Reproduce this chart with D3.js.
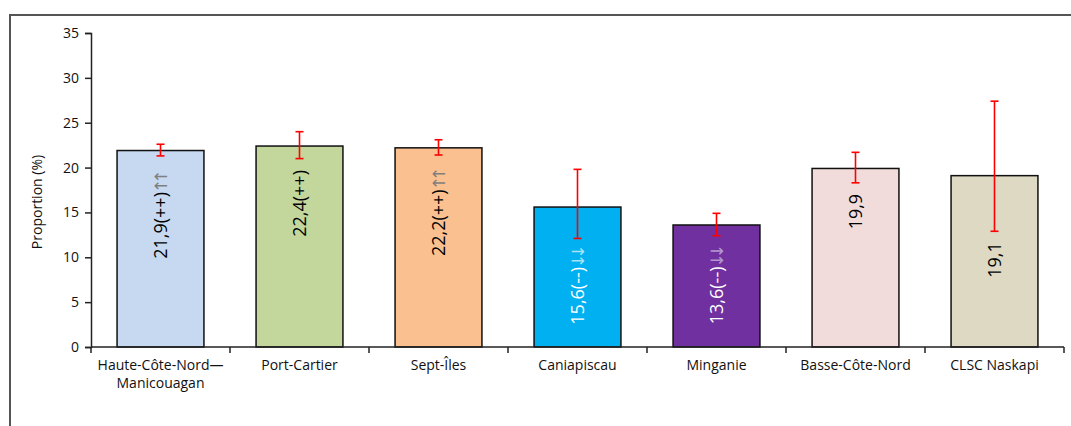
<!DOCTYPE html>
<html>
<head>
<meta charset="utf-8">
<script src="https://cdn.jsdelivr.net/npm/d3@7"></script>
<style>
  body { margin: 0; background: #fff; }
  text { font-family: "Open Sans", Lato, sans-serif; }
</style>
</head>
<body>
<div id="main"></div>
<script>
// données
const categories = ["Haute-Côte-Nord—Manicouagan", "Port-Cartier", "Sept-Îles", "Caniapiscau", "Minganie", "Basse-Côte-Nord", "CLSC Naskapi"];
const values = [21.9, 22.4, 22.2, 15.6, 13.6, 19.9, 19.1];
const errLow = [21.3, 21.0, 21.4, 12.1, 12.4, 18.3, 12.9];
const errHigh = [22.6, 24.0, 23.1, 19.8, 14.9, 21.7, 27.4];
const signs = ["(++)", "(++)", "(++)", "(--)", "(--)", "", ""];
const arrows = ["↑↑", "", "↑↑", "↓↓", "↓↓", "", ""];
const yTicks = [0, 5, 10, 15, 20, 25, 30, 35];

const colors = ["#c6d9f1", "#c3d69b", "#fac090", "#00b0f0", "#7030a0", "#f2dcdb", "#ddd9c3"];
const textColors = ["#000", "#000", "#000", "#fff", "#fff", "#000", "#000"];
const arrowColors = ["#7f7f7f", "#7f7f7f", "#7f7f7f", "#a6e3fa", "#b597cf", "#7f7f7f", "#7f7f7f"];

const ctx = {
    w: 1071,
    h: 426,
    left: 91,
    right: 1064,
    top: 33,
    bottom: 347,
};

function createViz(){
    let svg = d3.select("#main").append("svg")
        .attr("width", ctx.w)
        .attr("height", ctx.h);

    // cadre (seulement haut et gauche visibles)
    svg.append("path")
        .attr("d", `M10,${ctx.h} L10,15 L${ctx.w},15`)
        .attr("fill", "none")
        .attr("stroke", "#555")
        .attr("stroke-width", 2);

    const x = d3.scaleBand().domain(categories)
        .range([ctx.left, ctx.right])
        .paddingInner(0.375).paddingOuter(0.1875);
    const y = d3.scaleLinear().domain([0, 35]).range([ctx.bottom, ctx.top]);

    let data = categories.map((c, i) => ({
        cat: c, v: values[i], lo: errLow[i], hi: errHigh[i],
        sign: signs[i], arrow: arrows[i], i: i
    }));
    let cx = d => x(d.cat) + x.bandwidth() / 2;

    // barres
    svg.append("g").selectAll("rect")
        .data(data)
        .enter()
        .append("rect")
        .attr("x", d => x(d.cat))
        .attr("y", d => y(d.v))
        .attr("width", x.bandwidth())
        .attr("height", d => y(0) - y(d.v))
        .attr("fill", d => colors[d.i])
        .attr("stroke", "#111")
        .attr("stroke-width", 1.5);

    // étiquettes dans les barres (sous la barre d'erreur)
    let labels = svg.append("g").selectAll("text")
        .data(data)
        .enter()
        .append("text")
        .attr("transform", d => `translate(${cx(d) + 6},${Math.max(y(d.v) + 24, y(d.lo) + 11)}) rotate(-90)`)
        .attr("text-anchor", "end")
        .style("font-size", "18px")
        .attr("fill", d => textColors[d.i]);
    labels.append("tspan")
        .text(d => d3.format(".1f")(d.v).replace(".", ",") + d.sign);
    labels.append("tspan")
        .attr("fill", d => arrowColors[d.i])
        .attr("dx", -1)
        .style("font-family", "'DejaVu Sans', sans-serif")
        .style("font-size", "17px")
        .style("letter-spacing", "-5px")
        .text(d => d.arrow);

    // barres d'erreur
    let err = svg.append("g").attr("stroke", "#ff0000").attr("stroke-width", 1.6);
    err.selectAll("line.v").data(data).enter().append("line")
        .attr("x1", cx).attr("x2", cx)
        .attr("y1", d => y(d.lo)).attr("y2", d => y(d.hi));
    err.selectAll("line.lo").data(data).enter().append("line")
        .attr("x1", d => cx(d) - 4).attr("x2", d => cx(d) + 4)
        .attr("y1", d => y(d.lo)).attr("y2", d => y(d.lo));
    err.selectAll("line.hi").data(data).enter().append("line")
        .attr("x1", d => cx(d) - 4).attr("x2", d => cx(d) + 4)
        .attr("y1", d => y(d.hi)).attr("y2", d => y(d.hi));

    // axe Y
    let yAxis = svg.append("g")
        .attr("transform", `translate(${ctx.left},0)`)
        .call(d3.axisLeft(y).tickValues(yTicks).tickSize(6).tickPadding(6));
    yAxis.select(".domain").attr("stroke", "#222").attr("stroke-width", 1.5);
    yAxis.selectAll(".tick line").attr("stroke", "#222").attr("stroke-width", 1.5);
    yAxis.selectAll("text")
        .style("font-size", "14px")
        .style("font-family", "'Open Sans', sans-serif")
        .attr("fill", "#111");

    // axe X
    let xAxis = svg.append("g").attr("transform", `translate(0,${ctx.bottom})`);
    xAxis.append("line")
        .attr("x1", ctx.left).attr("x2", ctx.right)
        .attr("stroke", "#222").attr("stroke-width", 1.5);
    let bounds = d3.range(categories.length + 1).map(k => ctx.left + k * x.step());
    xAxis.selectAll("line.tk").data(bounds).enter().append("line")
        .attr("x1", d => d).attr("x2", d => d)
        .attr("y1", 0).attr("y2", 6)
        .attr("stroke", "#222").attr("stroke-width", 1.5);
    let catLabels = xAxis.selectAll("text").data(data).enter().append("text")
        .attr("text-anchor", "middle")
        .style("font-size", "14px")
        .attr("fill", "#111")
        .attr("transform", d => `translate(${cx(d)},23)`);
    catLabels.each(function(d){
        let parts = d.cat.split("—");
        let t = d3.select(this);
        if (parts.length > 1) {
            t.append("tspan").attr("x", 0).attr("dy", 0).text(parts[0] + "—");
            t.append("tspan").attr("x", 0).attr("dy", "1.25em").text(parts[1]);
        } else {
            t.append("tspan").attr("x", 0).text(d.cat);
        }
    });

    // titre axe Y
    svg.append("text")
        .attr("transform", `translate(42,${(ctx.top + ctx.bottom) / 2 + 12}) rotate(-90)`)
        .attr("text-anchor", "middle")
        .style("font-size", "14px")
        .attr("fill", "#111")
        .text("Proportion (%)");
}

createViz();
</script>
</body>
</html>
